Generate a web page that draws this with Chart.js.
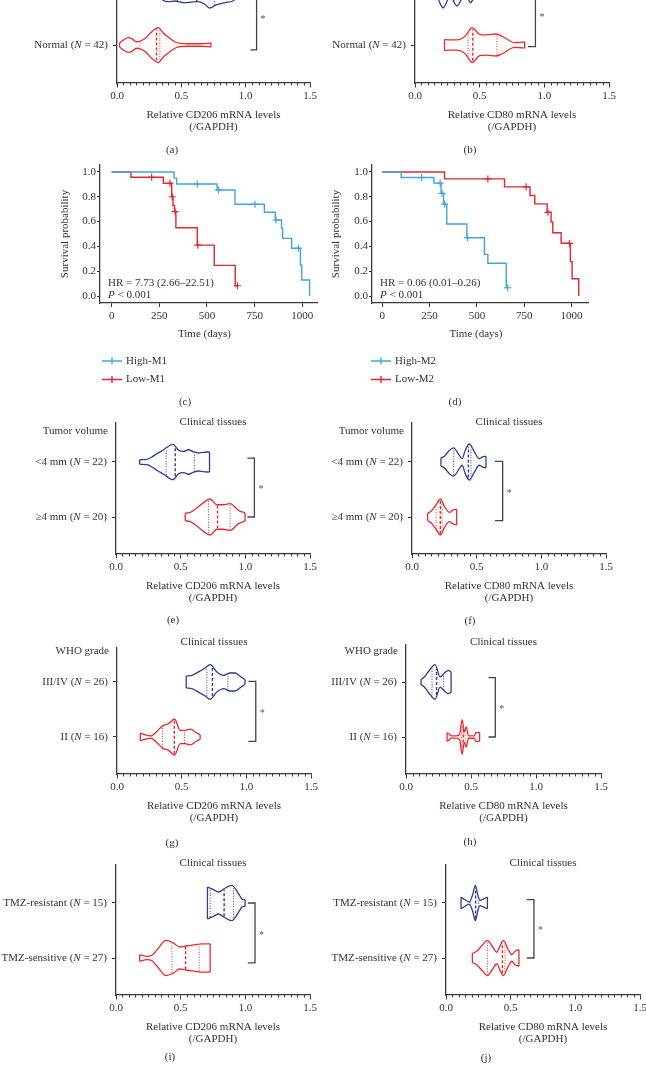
<!DOCTYPE html>
<html>
<head>
<meta charset="utf-8">
<script src="https://cdn.jsdelivr.net/npm/chart.js@4.4.1/dist/chart.umd.min.js"></script>
<style>
  body { margin: 0; background: #fff; width: 646px; height: 1069px; overflow: hidden; position: relative; }
  canvas { position: absolute; }
</style>
</head>
<body>
<script>
const FONT = '"Liberation Serif", "Times New Roman", serif'
const FS = 11
const TXT = '#333'
const AX = '#3a3a3a'
const BLUE = '#2f3d92'
const RED = '#ec2a2d'
const SKY = '#3fa7dd'
const KMRED = '#e5262c'

// ---- tick labels ----
const violinTicks = [0, 0.5, 1.0, 1.5]
const survTicksX = [0, 250, 500, 750, 1000]
const survTicksY = [0, 0.2, 0.4, 0.6, 0.8, 1.0]

// ---- categories (bottom row, top row) ----
const abRows = ['Normal (*N* = 42)', 'Tumor (*N* = 42)']
const efRows = ['≥4 mm (*N* = 20)', '<4 mm (*N* = 22)']
const ghRows = ['II (*N* = 16)', 'III/IV (*N* = 26)']
const ijRows = ['TMZ-sensitive (*N* = 27)', 'TMZ-resistant (*N* = 15)']

// ---- violin outlines: x = mRNA level, d = relative density, q = quartiles ----
const aNormX = [0.02, 0.05, 0.09, 0.12, 0.15, 0.18, 0.22, 0.27, 0.32, 0.36, 0.40, 0.45, 0.49, 0.55, 0.65, 0.73]
const aNormD = [0.11, 0.28, 0.41, 0.33, 0.18, 0.22, 0.37, 0.74, 0.97, 0.67, 0.43, 0.18, 0.09, 0.07, 0.07, 0.11]
const aNormQ = [0.178, 0.307, 0.333]
const aTumX = [0.30, 0.34, 0.36, 0.40, 0.45, 0.52, 0.58, 0.63, 0.68, 0.72, 0.77, 0.84, 0.90, 0.93]
const aTumD = [0.17, 0.44, 0.58, 0.65, 0.61, 0.70, 0.67, 0.65, 0.78, 1.0, 0.83, 0.70, 0.61, 0.44]
const aTumQ = [0.47, 0.62, 0.76]

const bNormX = [0.228, 0.26, 0.32, 0.37, 0.396, 0.442, 0.50, 0.55, 0.628, 0.68, 0.745, 0.77, 0.80, 0.848]
const bNormD = [0.31, 0.28, 0.28, 0.39, 0.56, 0.97, 0.59, 0.56, 0.61, 0.46, 0.18, 0.13, 0.14, 0.17]
const bNormQ = [0.41, 0.447, 0.634]
const bTumX = [0.15, 0.18, 0.20, 0.217, 0.235, 0.255, 0.27, 0.29, 0.31, 0.325, 0.34, 0.36, 0.385, 0.41, 0.43, 0.45, 0.47, 0.50]
const bTumD = [0.17, 0.5, 0.83, 1.0, 0.83, 0.5, 0.33, 0.5, 0.78, 0.89, 0.78, 0.5, 0.33, 0.5, 0.7, 0.5, 0.22, 0.17]
const bTumQ = [0.176, 0.30, 0.40]

const eSmallX = [0.183, 0.24, 0.278, 0.316, 0.368, 0.44, 0.484, 0.522, 0.561, 0.60, 0.638, 0.677, 0.723]
const eSmallD = [0.13, 0.15, 0.28, 0.46, 0.68, 0.98, 0.65, 0.59, 0.68, 0.56, 0.5, 0.54, 0.56]
const eSmallQ = [0.388, 0.458, 0.605]
const eLargeX = [0.535, 0.574, 0.625, 0.69, 0.728, 0.78, 0.831, 0.882, 0.947, 0.998]
const eLargeD = [0.21, 0.26, 0.5, 0.87, 1.0, 0.68, 0.68, 0.74, 0.37, 0.22]
const eLargeQ = [0.715, 0.785, 0.882]

const fSmallX = [0.224, 0.25, 0.284, 0.32, 0.366, 0.387, 0.412, 0.443, 0.482, 0.52, 0.546, 0.572]
const fSmallD = [0.24, 0.32, 0.61, 0.79, 0.37, 0.18, 0.65, 1.0, 0.56, 0.18, 0.28, 0.32]
const fSmallQ = [0.322, 0.436, 0.456]
const fLargeX = [0.121, 0.147, 0.186, 0.219, 0.25, 0.289, 0.314, 0.345]
const fLargeD = [0.21, 0.32, 0.68, 1.0, 0.59, 0.26, 0.37, 0.44]
const fLargeQ = [0.186, 0.219, 0.232]

const gHighX = [0.535, 0.579, 0.63, 0.682, 0.72, 0.772, 0.823, 0.875, 0.913, 0.952, 0.99]
const gHighD = [0.33, 0.37, 0.56, 0.78, 0.96, 0.56, 0.37, 0.5, 0.5, 0.32, 0.13]
const gHighQ = [0.695, 0.738, 0.857]
const gLowX = [0.18, 0.262, 0.309, 0.355, 0.399, 0.445, 0.489, 0.527, 0.566, 0.617, 0.643]
const gLowD = [0.21, 0.06, 0.32, 0.63, 0.74, 1.0, 0.37, 0.37, 0.44, 0.22, 0.13]
const gLowQ = [0.352, 0.443, 0.522]

const hHighX = [0.116, 0.141, 0.18, 0.224, 0.262, 0.296, 0.327, 0.347]
const hHighD = [0.15, 0.28, 0.65, 0.96, 0.28, 0.5, 0.65, 0.56]
const hHighQ = [0.2, 0.235, 0.29]
const hLowX = [0.316, 0.33, 0.347, 0.386, 0.412, 0.432, 0.448, 0.463, 0.481, 0.527, 0.535, 0.566]
const hLowD = [0.24, 0.18, 0.06, 0.06, 0.15, 0.96, 0.28, 0.56, 0.07, 0.06, 0.24, 0.24]
const hLowQ = [0.425, 0.44, 0.455]

const iResX = [0.707, 0.754, 0.792, 0.836, 0.895, 0.947, 0.972, 0.998]
const iResD = [0.89, 0.74, 0.61, 0.79, 0.98, 0.52, 0.24, 0.18]
const iResQ = [0.728, 0.836, 0.908]
const iSenX = [0.183, 0.24, 0.278, 0.329, 0.386, 0.445, 0.491, 0.548, 0.612, 0.664, 0.728]
const iSenD = [0.18, 0.09, 0.15, 0.56, 0.98, 0.83, 0.61, 0.68, 0.74, 0.79, 0.79]
const iSenQ = [0.432, 0.538, 0.643]

const jResX = [0.116, 0.147, 0.18, 0.206, 0.227, 0.245, 0.263, 0.289, 0.32]
const jResD = [0.32, 0.18, 0.06, 0.46, 0.98, 0.46, 0.15, 0.22, 0.33]
const jResQ = [0.186, 0.229, 0.25]
const jSenX = [0.204, 0.237, 0.284, 0.32, 0.361, 0.392, 0.418, 0.443, 0.482, 0.508, 0.534, 0.564]
const jSenD = [0.26, 0.37, 0.74, 0.98, 0.61, 0.32, 0.68, 0.98, 0.46, 0.18, 0.37, 0.46]
const jSenQ = [0.32, 0.436, 0.456]

// ---- survival curves (time in days, survival probability) ----
const cHighT = [0, 327, 341, 553, 647, 801, 858, 891, 897, 944, 990, 997, 1038]
const cHighS = [1, 0.95, 0.903, 0.855, 0.74, 0.675, 0.613, 0.546, 0.465, 0.385, 0.25, 0.129, 0]
const cHighCensT = [449, 560, 752, 862, 980]
const cHighCensS = [0.903, 0.855, 0.74, 0.613, 0.385]
const cLowT = [0, 101, 271, 315, 322, 330, 337, 449, 538, 648, 660]
const cLowS = [1, 0.957, 0.909, 0.80, 0.73, 0.68, 0.55, 0.41, 0.247, 0.083, 0.083]
const cLowCensT = [210, 306, 318, 333, 452, 660]
const cLowCensS = [0.957, 0.909, 0.80, 0.68, 0.41, 0.083]

const dHighT = [0, 100, 273, 311, 324, 341, 447, 540, 558, 655, 663]
const dHighS = [1, 0.955, 0.91, 0.828, 0.74, 0.58, 0.47, 0.336, 0.264, 0.067, 0.067]
const dHighCensT = [208, 306, 316, 330, 450, 663]
const dHighCensS = [0.955, 0.91, 0.828, 0.74, 0.47, 0.067]
const dLowT = [0, 329, 646, 781, 806, 871, 892, 901, 945, 994, 1003, 1038]
const dLowS = [1, 0.944, 0.88, 0.81, 0.743, 0.675, 0.597, 0.51, 0.425, 0.277, 0.14, 0]
const dLowCensT = [558, 760, 875, 989]
const dLowCensS = [0.944, 0.88, 0.675, 0.425]

// ---------------------------------------------------------------

function mkCanvas(ox, oy, w, h) {
  let c = document.createElement('canvas')
  c.width = w
  c.height = h
  c.style.left = ox + 'px'
  c.style.top = oy + 'px'
  c.style.width = w + 'px'
  c.style.height = h + 'px'
  document.body.appendChild(c)
  return c
}

// text with *italic* parts
function rich(ctx, str, x, y, align, size) {
  size = size || FS
  let parts = str.split('*')
  let fonts = parts.map((p, i) => (i % 2 ? 'italic ' : '') + size + 'px ' + FONT)
  let widths = parts.map((p, i) => { ctx.font = fonts[i]; return ctx.measureText(p).width })
  let total = widths.reduce((a, b) => a + b, 0)
  let cx = align === 'right' ? x - total : align === 'center' ? x - total / 2 : x
  ctx.fillStyle = TXT
  ctx.textAlign = 'left'
  ctx.textBaseline = 'middle'
  parts.forEach((p, i) => {
    ctx.font = fonts[i]
    ctx.fillText(p, cx, y)
    cx += widths[i]
  })
}

function interp(xs, ds, q) {
  for (let i = 1; i < xs.length; i++) {
    if (q <= xs[i]) {
      let t = (q - xs[i - 1]) / (xs[i] - xs[i - 1])
      return ds[i - 1] + t * (ds[i] - ds[i - 1])
    }
  }
  return ds[ds.length - 1]
}

const zip = (a, b) => a.map((v, i) => ({ x: v, y: b[i] }))

function axisFont() {
  return { family: FONT, size: FS }
}

function violinChart(p) {
  const S = 55
  const HW = 18 / S
  let canvas = mkCanvas(p.ox, p.oy, p.w, p.h)
  let yMin = 1 - (p.B - p.r1) / S
  let yMax = 2 + (p.r1 - S - p.T) / S

  let datasets = []
  p.violins.forEach(v => {
    let up = v.x.map((x, i) => ({ x, y: v.row + v.d[i] * HW }))
    let dn = v.x.map((x, i) => ({ x, y: v.row - v.d[i] * HW }))
    let n = v.x.length - 1
    let line = { showLine: true, pointRadius: 0, borderColor: v.color, borderWidth: 1.3, fill: false }
    datasets.push({ ...line, data: up, cubicInterpolationMode: 'monotone' })
    datasets.push({ ...line, data: dn, cubicInterpolationMode: 'monotone' })
    datasets.push({ ...line, data: [up[0], dn[0]] })
    datasets.push({ ...line, data: [up[n], dn[n]] })
    v.q.forEach((q, k) => {
      let w = interp(v.x, v.d, q) * HW * 0.94
      let median = k === 1
      datasets.push({
        ...line,
        borderWidth: median ? 1.4 : 1,
        borderDash: median ? [3, 2] : [1, 1.6],
        data: [{ x: q, y: v.row - w }, { x: q, y: v.row + w }]
      })
    })
  })
  let b = p.bracket
  datasets.push({
    showLine: true, pointRadius: 0, borderColor: '#444', borderWidth: 1.3,
    data: [{ x: b.left, y: b.top }, { x: b.x, y: b.top }, { x: b.x, y: b.bot }, { x: b.left, y: b.bot }]
  })

  let extras = {
    id: 'extras',
    afterDraw(chart) {
      let ctx = chart.ctx
      let xs = chart.scales.x, ys = chart.scales.y
      ctx.save()
      // minor ticks every 0.05
      ctx.strokeStyle = AX
      ctx.lineWidth = 1
      for (let i = 0; i <= 30; i++) {
        if (i % 10 === 0) continue
        let px = Math.round(xs.getPixelForValue(i * 0.05)) + 0.5
        ctx.beginPath()
        ctx.moveTo(px, xs.top)
        ctx.lineTo(px, xs.top + 2.5)
        ctx.stroke()
      }
      // row labels
      let lx = xs.left - 9
      rich(ctx, p.rows[0], lx, ys.getPixelForValue(1), 'right')
      rich(ctx, p.rows[1], lx, ys.getPixelForValue(2), 'right')
      // star
      ctx.fillStyle = '#555'
      ctx.font = '10px ' + FONT
      ctx.textAlign = 'left'
      ctx.textBaseline = 'middle'
      let sy = (ys.getPixelForValue(b.top) + ys.getPixelForValue(b.bot)) / 2
      ctx.fillText('*', xs.getPixelForValue(b.x) + 4, sy + 2)
      // texts in page coordinates
      ctx.translate(-p.ox, -p.oy)
      let cx = (p.L + p.R) / 2
      if (p.title) rich(ctx, 'Clinical tissues', cx, p.titleY, 'center')
      if (p.header) rich(ctx, p.header, p.L - 8, p.headerY, 'right')
      rich(ctx, p.xTitle, cx, p.B + 32.5, 'center')
      rich(ctx, '(/GAPDH)', cx, p.B + 44.5, 'center')
      rich(ctx, p.letter[0], p.letter[1], p.letter[2], 'center')
      ctx.restore()
    }
  }

  new Chart(canvas, {
    type: 'scatter',
    data: { datasets },
    plugins: [extras],
    options: {
      responsive: false,
      animation: false,
      events: [],
      layout: { padding: { top: p.T - p.oy, right: p.ox + p.w - p.R, left: 0, bottom: 0 } },
      plugins: { legend: { display: false }, tooltip: { enabled: false } },
      scales: {
        x: {
          type: 'linear', min: 0, max: 1.5,
          afterBuildTicks: s => { s.ticks = violinTicks.map(v => ({ value: v })) },
          afterFit: s => { s.height = p.oy + p.h - p.B },
          grid: { display: true, drawOnChartArea: false, drawTicks: true, tickLength: 4.5, color: AX, lineWidth: 1 },
          border: { display: true, color: AX, width: 1.3 },
          ticks: { color: TXT, font: axisFont(), padding: 2.5, maxRotation: 0, autoSkip: false, callback: v => Number(v).toFixed(1) }
        },
        y: {
          type: 'linear', min: yMin, max: yMax,
          afterBuildTicks: s => { s.ticks = [{ value: 1 }, { value: 2 }] },
          afterFit: s => { s.width = p.L - p.ox },
          grid: { display: true, drawOnChartArea: false, drawTicks: true, tickLength: 4, color: AX, lineWidth: 1 },
          border: { display: true, color: AX, width: 1.3 },
          ticks: { display: false }
        }
      }
    }
  })
}

function survivalChart(p) {
  let canvas = mkCanvas(p.ox, p.oy, p.w, p.h)
  let lineDs = (t, s, color) => ({ data: zip(t, s), showLine: true, stepped: 'before', pointRadius: 0, borderColor: color, borderWidth: 1.4 })
  let censDs = (t, s, color) => ({ data: zip(t, s), showLine: false, pointStyle: 'cross', pointRadius: 3.5, borderColor: color, borderWidth: 1.2 })
  let datasets = [
    lineDs(p.high[0], p.high[1], SKY), censDs(p.high[2], p.high[3], SKY),
    lineDs(p.low[0], p.low[1], KMRED), censDs(p.low[2], p.low[3], KMRED)
  ]

  let extras = {
    id: 'extras',
    afterDraw(chart) {
      let ctx = chart.ctx
      ctx.save()
      ctx.translate(-p.ox, -p.oy)
      rich(ctx, p.hr, p.L + 8, 283, 'left')
      rich(ctx, '*P* < 0.001', p.L + 8, 295, 'left')
      rich(ctx, 'Time (days)', (p.L + p.R) / 2 - 4, 334, 'center')
      ctx.save()
      ctx.translate(p.yTitleX, 234)
      ctx.rotate(-Math.PI / 2)
      rich(ctx, 'Survival probability', 0, 0, 'center')
      ctx.restore()
      // legend
      p.legend.forEach((lab, i) => {
        let y = 361 + i * 18.5
        let color = i === 0 ? SKY : KMRED
        ctx.strokeStyle = color
        ctx.lineWidth = 1.4
        ctx.beginPath()
        ctx.moveTo(p.legX, y)
        ctx.lineTo(p.legX + 20, y)
        ctx.moveTo(p.legX + 10, y - 3.5)
        ctx.lineTo(p.legX + 10, y + 3.5)
        ctx.stroke()
        rich(ctx, lab, p.legX + 24, y, 'left')
      })
      rich(ctx, p.letter[0], p.letter[1], p.letter[2], 'center')
      ctx.restore()
    }
  }

  new Chart(canvas, {
    type: 'scatter',
    data: { datasets },
    plugins: [extras],
    options: {
      responsive: false,
      animation: false,
      events: [],
      layout: { padding: { top: p.T - p.oy, right: p.ox + p.w - p.R, left: 0, bottom: 0 } },
      plugins: { legend: { display: false }, tooltip: { enabled: false } },
      scales: {
        x: {
          type: 'linear', min: p.xMin, max: p.xMax,
          afterBuildTicks: s => { s.ticks = survTicksX.map(v => ({ value: v })) },
          afterFit: s => { s.height = p.oy + p.h - p.B },
          grid: { display: true, drawOnChartArea: false, drawTicks: true, tickLength: 4, color: AX, lineWidth: 1 },
          border: { display: true, color: AX, width: 1.3 },
          ticks: { color: TXT, font: axisFont(), padding: 3, maxRotation: 0, autoSkip: false, callback: v => String(v) }
        },
        y: {
          type: 'linear', min: -0.056, max: 1.056,
          afterBuildTicks: s => { s.ticks = survTicksY.map(v => ({ value: v })) },
          afterFit: s => { s.width = p.L - p.ox },
          grid: { display: true, drawOnChartArea: false, drawTicks: true, tickLength: 3, color: AX, lineWidth: 1 },
          border: { display: true, color: AX, width: 1.3 },
          ticks: { color: TXT, font: axisFont(), padding: 1, callback: v => Number(v).toFixed(1) }
        }
      }
    }
  })
}

// ---- panels ----
const CD206 = 'Relative CD206 mRNA levels'
const CD80 = 'Relative CD80 mRNA levels'

violinChart({
  ox: 0, oy: -60, w: 323, h: 225, L: 117, R: 310, T: -49, B: 83, r1: 45,
  rows: abRows, xTitle: CD206, letter: ['(a)', 172, 150],
  violins: [
    { x: aNormX, d: aNormD, q: aNormQ, row: 1, color: RED },
    { x: aTumX, d: aTumD, q: aTumQ, row: 2, color: BLUE }
  ],
  bracket: { x: 1.085, left: 1.036, top: 2.1, bot: 0.91 }
})
violinChart({
  ox: 323, oy: -60, w: 323, h: 225, L: 415, R: 609, T: -49, B: 83, r1: 45,
  rows: abRows, xTitle: CD80, letter: ['(b)', 470, 150],
  violins: [
    { x: bNormX, d: bNormD, q: bNormQ, row: 1, color: RED },
    { x: bTumX, d: bTumD, q: bTumQ, row: 2, color: BLUE }
  ],
  bracket: { x: 0.931, left: 0.874, top: 2.1, bot: 0.97 }
})

survivalChart({
  ox: 0, oy: 150, w: 323, h: 262, L: 100, R: 317, T: 165, B: 303, xMin: -61, xMax: 1077,
  high: [cHighT, cHighS, cHighCensT, cHighCensS], low: [cLowT, cLowS, cLowCensT, cLowCensS],
  hr: 'HR = 7.73 (2.66–22.51)', yTitleX: 65, legX: 102, legend: ['High-M1', 'Low-M1'],
  letter: ['(c)', 185, 402]
})
survivalChart({
  ox: 323, oy: 150, w: 323, h: 262, L: 372, R: 588, T: 165, B: 303, xMin: -54, xMax: 1087,
  high: [dHighT, dHighS, dHighCensT, dHighCensS], low: [dLowT, dLowS, dLowCensT, dLowCensS],
  hr: 'HR = 0.06 (0.01–0.26)', yTitleX: 336, legX: 371, legend: ['High-M2', 'Low-M2'],
  letter: ['(d)', 455, 402]
})

violinChart({
  ox: 0, oy: 405, w: 323, h: 225, L: 116, R: 310, T: 423, B: 554, r1: 517,
  rows: efRows, xTitle: CD206, title: true, titleY: 422, header: 'Tumor volume', headerY: 431,
  letter: ['(e)', 173, 620],
  violins: [
    { x: eLargeX, d: eLargeD, q: eLargeQ, row: 1, color: RED },
    { x: eSmallX, d: eSmallD, q: eSmallQ, row: 2, color: BLUE }
  ],
  bracket: { x: 1.07, left: 1.016, top: 2.07, bot: 1.0 }
})
violinChart({
  ox: 323, oy: 405, w: 323, h: 225, L: 412, R: 606, T: 423, B: 554, r1: 517,
  rows: efRows, xTitle: CD80, title: true, titleY: 422, header: 'Tumor volume', headerY: 431,
  letter: ['(f)', 470, 621],
  violins: [
    { x: fLargeX, d: fLargeD, q: fLargeQ, row: 1, color: RED },
    { x: fSmallX, d: fSmallD, q: fSmallQ, row: 2, color: BLUE }
  ],
  bracket: { x: 0.701, left: 0.642, top: 2.01, bot: 0.933 }
})

violinChart({
  ox: 0, oy: 630, w: 323, h: 220, L: 117, R: 311, T: 648, B: 774, r1: 737,
  rows: ghRows, xTitle: CD206, title: true, titleY: 642, header: 'WHO grade', headerY: 651,
  letter: ['(g)', 172, 843],
  violins: [
    { x: gLowX, d: gLowD, q: gLowQ, row: 1, color: RED },
    { x: gHighX, d: gHighD, q: gHighQ, row: 2, color: BLUE }
  ],
  bracket: { x: 1.073, left: 1.016, top: 2.01, bot: 0.92 }
})
violinChart({
  ox: 323, oy: 630, w: 323, h: 220, L: 406, R: 601, T: 645, B: 774, r1: 737,
  rows: ghRows, xTitle: CD80, title: true, titleY: 642, header: 'WHO grade', headerY: 651,
  letter: ['(h)', 470, 842],
  violins: [
    { x: hLowX, d: hLowD, q: hLowQ, row: 1, color: RED },
    { x: hHighX, d: hHighD, q: hHighQ, row: 2, color: BLUE }
  ],
  bracket: { x: 0.687, left: 0.635, top: 2.08, bot: 1.0 }
})

violinChart({
  ox: 0, oy: 850, w: 323, h: 219, L: 116, R: 310, T: 865, B: 995, r1: 958,
  rows: ijRows, xTitle: CD206, title: true, titleY: 863,
  letter: ['(i)', 170, 1057],
  violins: [
    { x: iSenX, d: iSenD, q: iSenQ, row: 1, color: RED },
    { x: iResX, d: iResD, q: iResQ, row: 2, color: BLUE }
  ],
  bracket: { x: 1.075, left: 1.019, top: 2.0, bot: 0.91 }
})
violinChart({
  ox: 323, oy: 850, w: 340, h: 219, L: 446, R: 640, T: 865, B: 995, r1: 958,
  rows: ijRows, xTitle: CD80, title: true, titleY: 863,
  letter: ['(j)', 486, 1058],
  violins: [
    { x: jSenX, d: jSenD, q: jSenQ, row: 1, color: RED },
    { x: jResX, d: jResD, q: jResQ, row: 2, color: BLUE }
  ],
  bracket: { x: 0.68, left: 0.624, top: 2.06, bot: 1.0 }
})
</script>
</body>
</html>
